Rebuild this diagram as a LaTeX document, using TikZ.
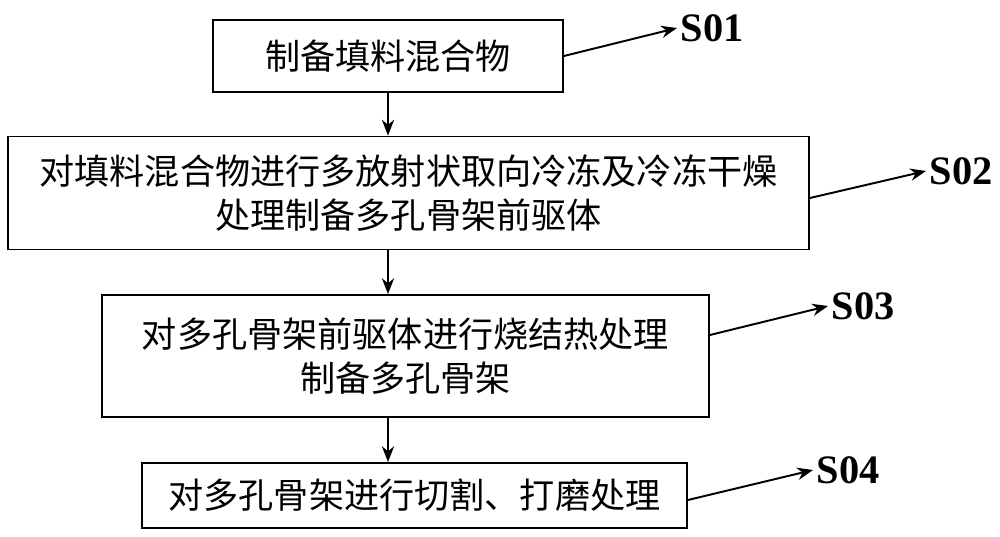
\documentclass[tikz,border=0pt]{standalone}
\usepackage{fontspec}
\setmainfont{Liberation Serif}
\newfontfamily\cjk{Noto Sans CJK SC}
\usetikzlibrary{arrows.meta}
\tikzset{
  stepbox/.style={draw,rectangle,line width=1.1pt,align=center,inner sep=0pt,
    font={\cjk\fontsize{20}{25}\selectfont}},
  flow/.style={-{Stealth[length=9pt,width=7pt]},line width=1.1pt},
  steplabel/.style={anchor=west,inner sep=2pt,font={\fontsize{23}{23}\selectfont\bfseries}}
}

\begin{document}
\begin{tikzpicture}[x=0.02cm,y=-0.02cm]
    \useasboundingbox (0,0) rectangle (1000,537);
    %
    % -- The four process steps
    \node [stepbox,minimum width=7cm,minimum height=1.44cm] (prep) at (388,56) {制备填料混合物};
    \node [stepbox,minimum width=16.02cm,minimum height=2.26cm] (freeze) at (408.5,193)
      {对填料混合物进行多放射状取向冷冻及冷冻干燥\\处理制备多孔骨架前驱体};
    \node [stepbox,minimum width=12.14cm,minimum height=2.44cm] (sinter) at (405.5,356)
      {对多孔骨架前驱体进行烧结热处理\\制备多孔骨架};
    \node [stepbox,minimum width=10.9cm,minimum height=1.3cm] (cut) at (414.5,495.5)
      {对多孔骨架进行切割、打磨处理};

    % -- Step labels on the right
    \node [steplabel] (s01) at (677,28) {S01};
    \node [steplabel] (s02) at (926,171) {S02};
    \node [steplabel] (s03) at (828,306) {S03};
    \node [steplabel] (s04) at (813,470) {S04};

    % -- Flow from one step down to the next
    \draw [flow] (prep.south) -- (prep.south |- freeze.north);
    \draw [flow] (prep.south |- freeze.south) -- (prep.south |- sinter.north);
    \draw [flow] (prep.south |- sinter.south) -- (prep.south |- cut.north);

    % -- Pointers from each box to its label
    \draw [flow] (prep.east) -- (s01.west);
    \draw [flow] ([yshift=-0.1cm]freeze.east) -- (s02.west);
    \draw [flow] ([yshift=0.42cm]sinter.east) -- (s03.west);
    \draw [flow] ([yshift=-0.09cm]cut.east) -- (s04.west);
\end{tikzpicture}
\end{document}
